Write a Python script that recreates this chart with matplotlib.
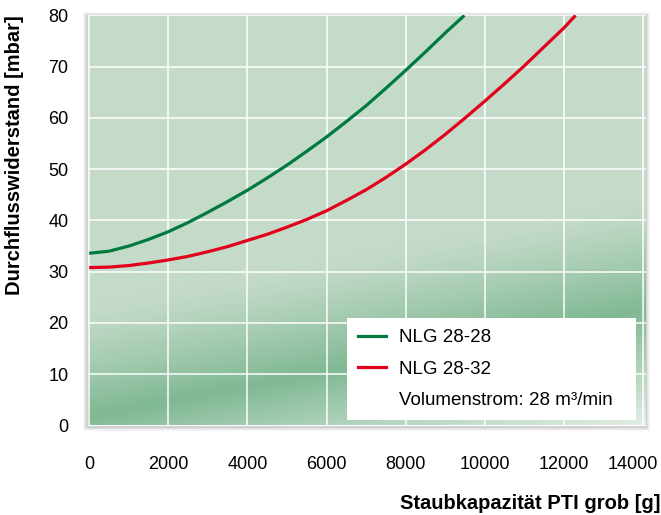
import numpy as np
import matplotlib
matplotlib.use("Agg")
import matplotlib.pyplot as plt
from matplotlib.lines import Line2D
from matplotlib.patches import Rectangle
import matplotlib.transforms as mtransforms

plt.rcParams['font.family'] = ['Liberation Sans', 'DejaVu Sans']

# ---- data ----
x_green = [0, 500, 1000, 1500, 2000, 2500, 3000, 3500, 4000, 4500, 5000, 5500,
           6000, 6500, 7000, 7500, 8000, 8500, 9000, 9480]
y_green = [33.6, 34.0, 35.0, 36.3, 37.8, 39.6, 41.6, 43.7, 45.9, 48.3, 50.8, 53.5,
           56.3, 59.3, 62.4, 65.8, 69.3, 72.9, 76.6, 80.0]
x_red = [0, 500, 1000, 1500, 2000, 2500, 3000, 3500, 4000, 4500, 5000, 5500, 6000,
         6500, 7000, 7500, 8000, 8500, 9000, 9500, 10000, 10500, 11000, 11500,
         12000, 12290]
y_red = [30.8, 30.9, 31.2, 31.7, 32.3, 33.0, 33.9, 34.9, 36.1, 37.3, 38.7, 40.2, 41.9,
         43.9, 46.0, 48.4, 51.0, 53.8, 56.8, 60.0, 63.3, 66.7, 70.2, 73.9,
         77.6, 80.0]
series_labels = ["NLG 28-28", "NLG 28-32"]
note_label = "Volumenstrom: 28 m³/min"
x_ticks = [0, 2000, 4000, 6000, 8000, 10000, 12000, 14000]
y_ticks = [0, 10, 20, 30, 40, 50, 60, 70, 80]
x_title = "Staubkapazität PTI grob [g]"
y_title = "Durchflusswiderstand [mbar]"

W, H = 661, 515
fig = plt.figure(figsize=(W / 100, H / 100), dpi=100)
fig.patch.set_facecolor('white')

L, R, B, T = 88, 646, 425.5, 15.4
ax = fig.add_axes([L / W, 1 - B / H, (R - L) / W, (B - T) / H])
xmin, xmax = -30, 14070
ax.set_xlim(xmin, xmax)
ax.set_ylim(0, 80)

# soft shadow around plot area
for i, a in enumerate([0.035, 0.04, 0.05, 0.06]):
    g = 4 - i
    fig.patches.append(Rectangle(((L - g - 1) / W, 1 - (B + g + 1.5) / H),
                                 (R - L + 2 * g + 1) / W, (B - T + 2 * g + 1) / H,
                                 transform=fig.transFigure, facecolor='black',
                                 edgecolor='none', alpha=a, zorder=-5))

# background gradient
nx, ny = 600, 420
gx = np.linspace(xmin, xmax, nx)
gy = np.linspace(0, 80, ny)
GX, GY = np.meshgrid(gx, gy)
px = (GX - xmin) / (xmax - xmin) * (R - L)
py = GY / 80 * (B - T)
d = py - 0.19 * px
C0 = np.array([197, 219, 202]) / 255
C1 = np.array([128, 185, 147]) / 255
C2 = np.array([226, 238, 229]) / 255
t_up = np.clip((118 - d) / 110, 0, 1) ** 1.2
t_dn = np.clip((8 - d) / 115, 0, 1)
img = np.where((d >= 8)[..., None],
               C0 + (C1 - C0) * t_up[..., None],
               C1 + (C2 - C1) * t_dn[..., None])
ax.imshow(img, extent=[xmin, xmax, 0, 80], origin='lower', aspect='auto',
          interpolation='bilinear', zorder=0)

ax.set_xticks(x_ticks)
ax.set_yticks(y_ticks)
ax.grid(True, color='white', linewidth=1.2, alpha=0.9, zorder=1)
ax.set_axisbelow(False)
for s in ax.spines.values():
    s.set_visible(False)
ax.tick_params(axis='both', length=0, labelsize=13, colors='black')
ax.tick_params(axis='x', pad=22)
ax.tick_params(axis='y', pad=14)
lbls = ax.get_xticklabels()
lbls[-1].set_transform(lbls[-1].get_transform() +
                       mtransforms.ScaledTranslation(-10 / 100, 0, fig.dpi_scale_trans))

ax.plot(x_green, y_green, color='#007a3d', linewidth=2.3, zorder=3,
        solid_capstyle='butt', solid_joinstyle='round')
ax.plot(x_red, y_red, color='#e2001a', linewidth=2.3, zorder=3,
        solid_capstyle='butt', solid_joinstyle='round')

handles = [Line2D([], [], color='#007a3d', lw=2.3),
           Line2D([], [], color='#e2001a', lw=2.3),
           Line2D([], [], color='none', lw=0)]
x0 = (347 - L) / (R - L)
x1 = (636 - L) / (R - L)
y0 = (B - 420) / (B - T)
y1 = (B - 317) / (B - T)
leg = ax.legend(handles, series_labels + [note_label], loc='lower left',
                bbox_to_anchor=(x0, y0, x1 - x0, y1 - y0), mode='expand',
                fontsize=13.5, frameon=True, fancybox=False, framealpha=1,
                facecolor='white', edgecolor='none', handlelength=1.5,
                handletextpad=0.65, labelspacing=0.75, borderpad=0.6,
                borderaxespad=0)
leg.set_zorder(5)

fig.text(660 / W, 1 - 509 / H, x_title, ha='right', va='baseline',
         fontsize=14.5, fontweight='bold')
fig.text(15 / W, 1 - 15 / H, y_title, ha='center', va='top', rotation=90,
         fontsize=14.5, fontweight='bold')

fig.savefig('out.png', dpi=100, facecolor='white')
